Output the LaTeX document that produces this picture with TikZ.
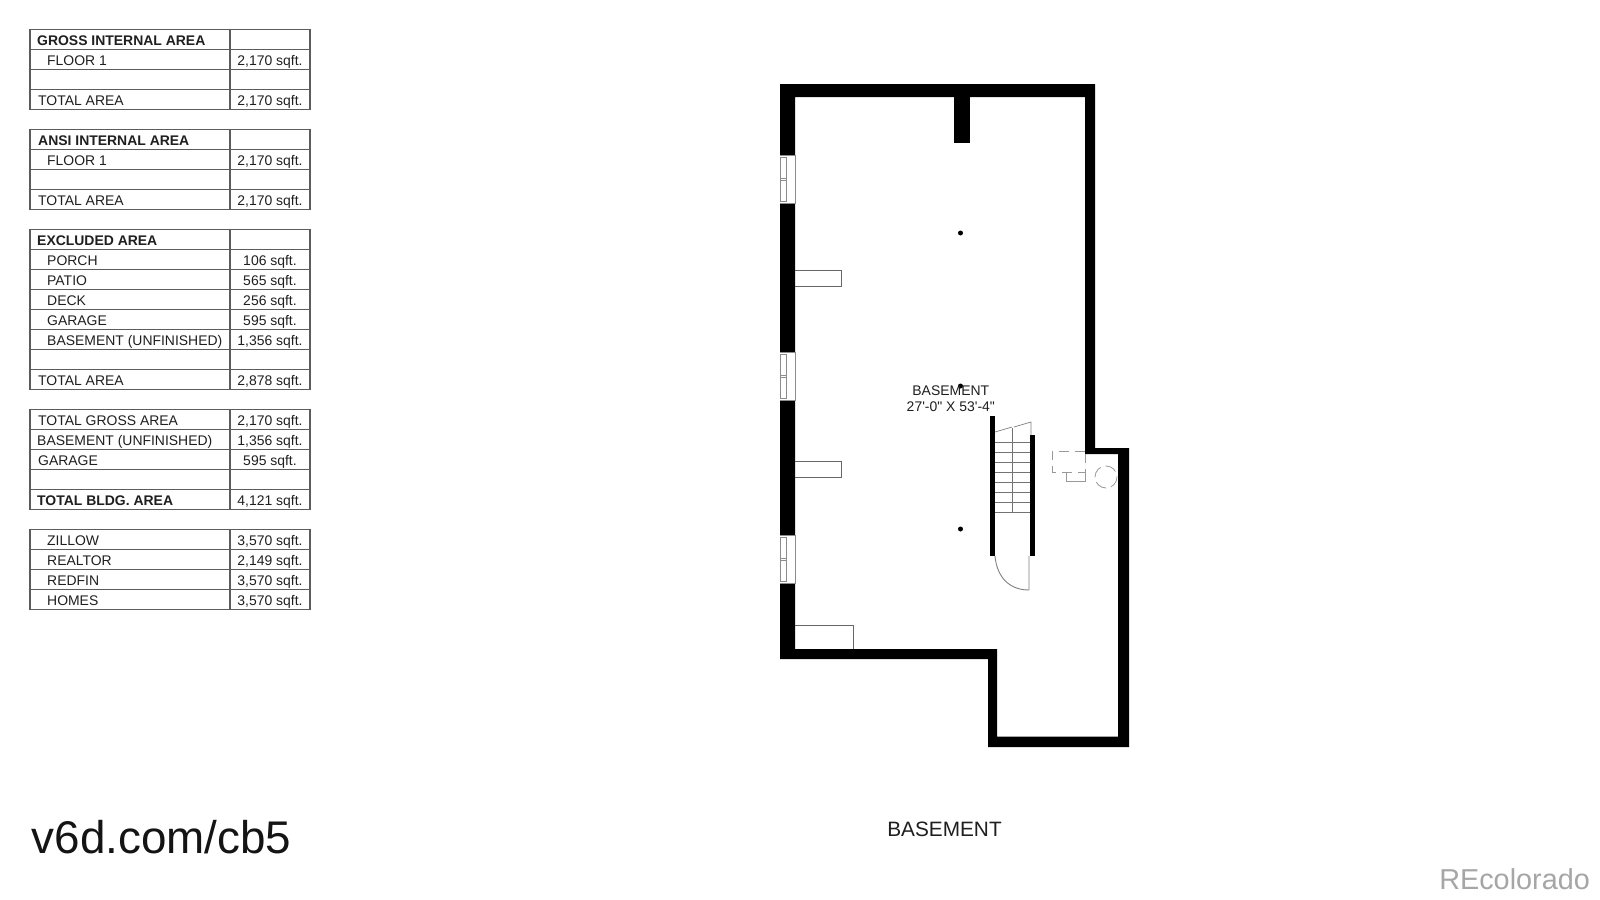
\documentclass[tikz,border=0pt]{standalone}
\usepackage{fontspec}
\setmainfont{Liberation Sans}
\newfontfamily\rawfont{Liberation Sans}
\newcounter{cellno}
\tikzset{
  x=1pt,y=-1pt,
  grid/.style={draw=black!64,line width=1.05pt},
  cellname/.style={anchor=base west,inner sep=0pt,font=\fontsize{13.95}{16}\selectfont,text=black!88},
  cellhead/.style={cellname,font=\fontsize{13.95}{16}\selectfont\bfseries},
  cellval/.style={anchor=base,inner sep=0pt,font=\fontsize{13.95}{16}\selectfont,text=black!88},
  wall/.style={fill=black,draw=none},
  thin/.style={draw=black!60,line width=.8pt},
  win/.style={draw=black!45,line width=.7pt,fill=white},
  dashgrey/.style={draw=black!40,line width=.8pt,dash pattern=on 10pt off 6pt},
  pillar/.style={circle,fill=black,inner sep=0pt,minimum size=5pt},
  plain/.style={inner sep=0pt}
}
% top y, number of rows
\newcommand{\tablegrid}[2]{%
  \draw[grid] (30,#1) rectangle (310,#1+20*#2);
  \draw[grid] (230,#1) -- (230,#1+20*#2);
  \foreach \k in {1,...,#2}{\ifnum\k<#2 \draw[grid] (30,#1+20*\k) -- (310,#1+20*\k);\fi}%
}
% row top y, style, x, name, value
\newcommand{\rowtext}[5]{%
  \stepcounter{cellno}%
  \node[#2] (name\thecellno) at (#3,#1+15.2) {#4};%
  \node[cellval] (val\thecellno) at (270,#1+15.2) {#5};%
}
\begin{document}
\begin{tikzpicture}
\useasboundingbox (0,0) rectangle (1600,899);
\fill[white] (0,0) rectangle (1600,899);

% tables
\tablegrid{29.5}{4}
\rowtext{30.5}{cellhead}{37}{GROSS INTERNAL AREA}{}
\rowtext{50.5}{cellname}{47}{FLOOR 1}{2,170 sqft.}
\rowtext{90.5}{cellname}{38}{TOTAL AREA}{2,170 sqft.}

\tablegrid{129.5}{4}
\rowtext{130.5}{cellhead}{38}{ANSI INTERNAL AREA}{}
\rowtext{150.5}{cellname}{47}{FLOOR 1}{2,170 sqft.}
\rowtext{190.5}{cellname}{38}{TOTAL AREA}{2,170 sqft.}

\tablegrid{229.5}{8}
\rowtext{230.5}{cellhead}{37}{EXCLUDED AREA}{}
\rowtext{250.5}{cellname}{47}{PORCH}{106 sqft.}
\rowtext{270.5}{cellname}{47}{PATIO}{565 sqft.}
\rowtext{290.5}{cellname}{47}{DECK}{256 sqft.}
\rowtext{310.5}{cellname}{47}{GARAGE}{595 sqft.}
\rowtext{330.5}{cellname}{47}{BASEMENT (UNFINISHED)}{1,356 sqft.}
\rowtext{370.5}{cellname}{38}{TOTAL AREA}{2,878 sqft.}

\tablegrid{409.6}{5}
\rowtext{410}{cellname}{38}{TOTAL GROSS AREA}{2,170 sqft.}
\rowtext{430}{cellname}{37}{BASEMENT (UNFINISHED)}{1,356 sqft.}
\rowtext{450}{cellname}{38}{GARAGE}{595 sqft.}
\rowtext{490}{cellhead}{37}{TOTAL BLDG. AREA}{4,121 sqft.}

\tablegrid{529.6}{4}
\rowtext{530}{cellname}{47}{ZILLOW}{3,570 sqft.}
\rowtext{550}{cellname}{47}{REALTOR}{2,149 sqft.}
\rowtext{570}{cellname}{47}{REDFIN}{3,570 sqft.}
\rowtext{590}{cellname}{47}{HOMES}{3,570 sqft.}

% outer wall
\fill[wall,even odd rule]
  (780,84) -- (1095,84) -- (1095,448) -- (1129,448) -- (1129,747) -- (988,747) -- (988,659) -- (780,659) -- cycle
  (795,97) -- (795,649) -- (997,649) -- (997,736.5) -- (1118,736.5) -- (1118,454) -- (1085,454) -- (1085,97) -- cycle;
% chimney
\fill[wall] (954,90) rectangle (970,142.5);

% windows
\foreach \a/\b in {155.5/203,352.5/400.5,535.5/583}{
  \fill[white] (780,\a) rectangle (795.5,\b);
  \draw[win] (780,\a) -- (795.5,\a) -- (795.5,\b) -- (780,\b);
  \draw[win] (780.5,\a+2) rectangle (786.5,\b-2);
  \draw[win] (780.5,{(\a+\b)/2-1}) -- (786.5,{(\a+\b)/2-1}) (780.5,{(\a+\b)/2+1}) -- (786.5,{(\a+\b)/2+1});
}

% shelves / closet
\draw[thin] (795,270) -- (841.5,270) -- (841.5,286) -- (795,286);
\draw[thin] (795,461) -- (841.5,461) -- (841.5,477) -- (795,477);
\draw[thin] (795,625.5) -- (853,625.5) -- (853,649);

% posts
\node[pillar] (postA) at (960.5,233) {};
\node[pillar] (postB) at (960.5,386) {};
\node[pillar] (postC) at (960.5,529) {};

% stairs
\fill[wall] (990,416) rectangle (995,556);
\fill[wall] (1030,435) rectangle (1035,556);
\foreach \y in {442,452,...,512}{\draw[draw=black!55,line width=.7pt] (995,\y) -- (1030,\y);}
\draw[draw=black!55,line width=.7pt] (1012,428) -- (1012,512);
\draw[draw=black!50,line width=.7pt] (995,432) -- (1012,427) (1014,427) -- (1031,422) -- (1031,435);
\draw[draw=black!50,line width=.9pt] (995,556) .. controls (997,578) and (1010,590) .. (1029,590) -- (1029,556);

% dashed fixtures
\draw[dashgrey] (1085,451) -- (1052,451) -- (1052,472) -- (1085,472) -- (1085,454);
\draw[thin,draw=black!40] (1066,472) -- (1066,481) -- (1085,481) -- (1085,472);
\draw[dashgrey,dash pattern=on 12pt off 5pt] (1106,477) circle (11);

% labels
\node[plain,font=\rawfont\fontsize{13.95}{16}\selectfont,text=black!88] (roomA) at (950.8,390.5) {BASEMENT};
\node[plain,font=\rawfont\fontsize{13.95}{16}\selectfont,text=black!88] (roomB) at (950.8,406.5) {27'-0" X 53'-4"};
\node[plain,font=\fontsize{20.8}{24}\selectfont,text=black!88] (caption) at (944.5,829) {BASEMENT};
\node[plain,anchor=base west,font=\fontsize{45.8}{50}\selectfont,text=black!92] (link) at (31.5,853) {v6d.com/cb5};
\node[plain,anchor=base east,font=\fontsize{28.8}{30}\selectfont,text=black!35] (mark) at (1590,889) {REcolorado};
\end{tikzpicture}
\end{document}
